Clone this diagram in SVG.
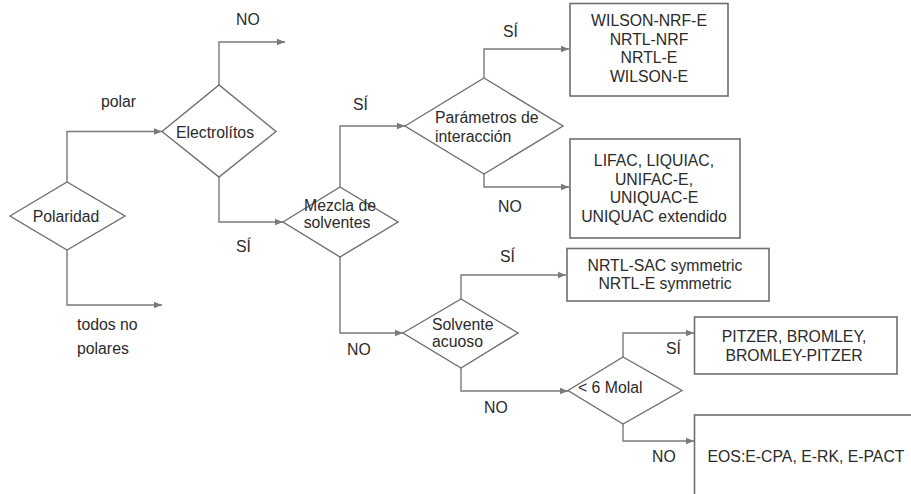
<svg xmlns="http://www.w3.org/2000/svg" width="911" height="494" viewBox="0 0 911 494">
<style>
text{font-family:"Liberation Sans",Arial,sans-serif;font-size:15.8px;fill:#2a2a2a}
.c{text-anchor:middle}
.shape{fill:#fff;stroke:#6e6e6e;stroke-width:1.4}
.box{fill:#fff;stroke:#6e6e6e;stroke-width:1.6}
.ln{fill:none;stroke:#7a7a7a;stroke-width:1.4;marker-end:url(#ah)}
</style>
<defs>
<marker id="ah" viewBox="0 0 8 8" refX="8" refY="4" markerWidth="8" markerHeight="8" markerUnits="userSpaceOnUse" orient="auto">
<path d="M0,0.8 L8,4 L0,7.2 z" fill="#7a7a7a"/>
</marker>
</defs>
<rect width="911" height="494" fill="#fff"/>
<g id="connectors">
<path class="ln" d="M67,182 V131.5 H162"/>
<path class="ln" d="M67,250 V305 H162"/>
<path class="ln" d="M219,85 V42 H285"/>
<path class="ln" d="M219,177 V222 H283"/>
<path class="ln" d="M340,187 V126 H405"/>
<path class="ln" d="M340,257 V333 H403"/>
<path class="ln" d="M484,78 V49 H569"/>
<path class="ln" d="M484,174 V187 H569"/>
<path class="ln" d="M461,299 V275 H566"/>
<path class="ln" d="M461,368 V391 H568"/>
<path class="ln" d="M623,357 V333 H694"/>
<path class="ln" d="M623,424 V441 H694"/>
</g>
<g id="labels">
<text x="236" y="25">NO</text>
<text x="101" y="107">polar</text>
<text x="236" y="252">SÍ</text>
<text x="77" y="330">todos no</text>
<text x="77" y="354">polares</text>
<text x="353" y="110">SÍ</text>
<text x="503" y="37">SÍ</text>
<text x="498" y="212">NO</text>
<text x="500" y="262">SÍ</text>
<text x="347" y="355">NO</text>
<text x="484" y="413">NO</text>
<text x="666" y="354">SÍ</text>
<text x="652" y="462">NO</text>
</g>
<g id="polaridad">
<polygon class="shape" points="10,216 67,182 125,216 67,250"/>
<text x="66" y="222" class="c">Polaridad</text>
</g>
<g id="electrolitos">
<polygon class="shape" points="162,131.5 219,85 276,131.5 219,177"/>
<text x="215" y="138" class="c">Electrolítos</text>
</g>
<g id="mezcla">
<polygon class="shape" points="283,222 340,187 398,222 340,257"/>
<text x="340" y="211" class="c">Mezcla de</text>
<text x="337" y="228" class="c">solventes</text>
</g>
<g id="parametros">
<polygon class="shape" points="405,126 484,78 563,126 484,174"/>
<text x="435" y="123">Parámetros de</text>
<text x="435" y="142">interacción</text>
</g>
<g id="solvente">
<polygon class="shape" points="403,333 461,299 518,333 461,368"/>
<text x="432" y="330">Solvente</text>
<text x="432" y="347">acuoso</text>
</g>
<g id="molal">
<polygon class="shape" points="568,390.5 623,357 682,390.5 623,424"/>
<text x="578" y="393">&lt; 6 Molal</text>
</g>
<g id="box-wilson">
<rect class="box" x="570" y="3.5" width="158" height="92.5"/>
<text x="649" y="26" class="c">WILSON-NRF-E</text>
<text x="649" y="44.5" class="c">NRTL-NRF</text>
<text x="649" y="63" class="c">NRTL-E</text>
<text x="649" y="81.5" class="c">WILSON-E</text>
</g>
<g id="box-lifac">
<rect class="box" x="570" y="139" width="170" height="99"/>
<text x="654" y="166" class="c">LIFAC, LIQUIAC,</text>
<text x="654" y="184.5" class="c">UNIFAC-E,</text>
<text x="654" y="203" class="c">UNIQUAC-E</text>
<text x="654" y="221.5" class="c">UNIQUAC extendido</text>
</g>
<g id="box-nrtlsac">
<rect class="box" x="567" y="248.5" width="202" height="52.5"/>
<text x="665" y="271" class="c">NRTL-SAC symmetric</text>
<text x="665" y="289" class="c">NRTL-E symmetric</text>
</g>
<g id="box-pitzer">
<rect class="box" x="694.5" y="317" width="202.5" height="57"/>
<text x="794" y="342" class="c">PITZER, BROMLEY,</text>
<text x="794" y="361" class="c">BROMLEY-PITZER</text>
</g>
<g id="box-eos">
<rect class="box" x="694.5" y="415" width="260" height="100"/>
<text x="806" y="462" class="c">EOS:E-CPA, E-RK, E-PACT</text>
</g>
</svg>
